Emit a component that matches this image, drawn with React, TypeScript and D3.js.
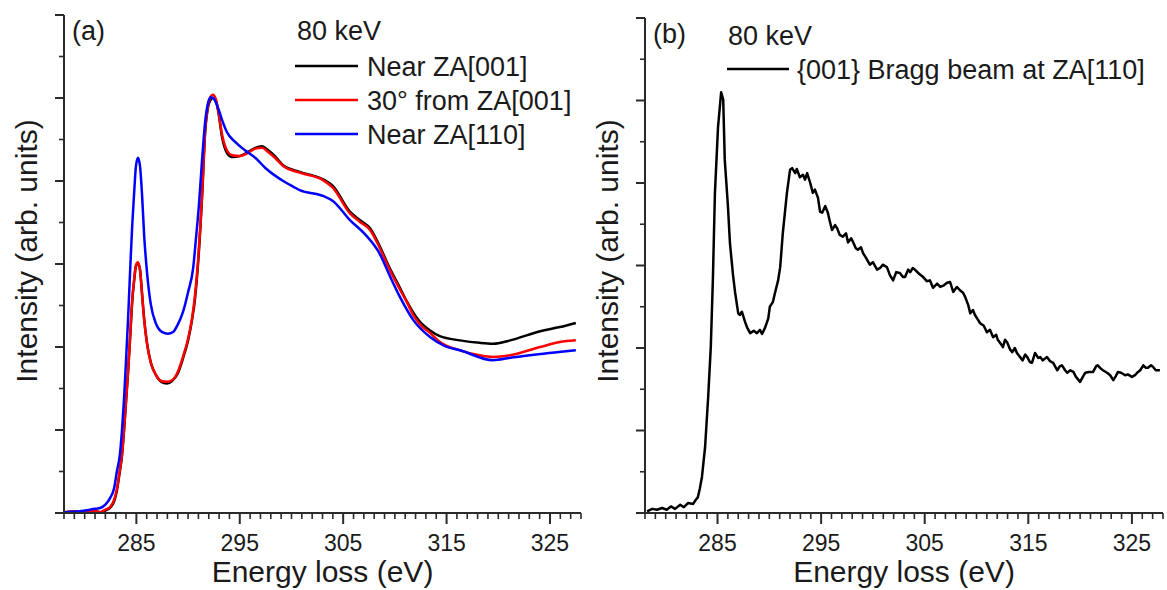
import React from "react";
import * as d3 from "d3";

// ---------- Data ----------
// Panel (a): energy (eV) and intensity (arb. units)
const aBlackE = [278.1, 279.5, 281.0, 281.5, 282.0, 282.45, 282.85, 283.1, 283.4, 283.6, 283.8, 284.0, 284.2, 284.4, 284.6, 284.8, 284.95, 285.15, 285.35, 285.55, 285.75, 286.05, 286.4, 286.9, 287.4, 287.95, 288.45, 289.0, 289.5, 290.0, 290.4, 290.65, 290.95, 291.35, 291.65, 291.95, 292.2, 292.4, 292.7, 292.9, 293.3, 293.75, 294.25, 295.0, 295.8, 296.5, 297.15, 297.75, 298.4, 299.2, 300.8, 303.05, 304.0, 305.65, 306.6, 307.6, 308.55, 309.5, 310.5, 311.2, 311.75, 312.45, 313.4, 314.35, 316.3, 318.2, 319.5, 321.15, 324.05, 325.95, 327.5];
const aBlackI = [0.01, 0.02, 0.02, 0.01, 0.03, 0.06, 0.14, 0.26, 0.5, 0.68, 0.98, 1.34, 1.7, 2.12, 2.55, 2.82, 2.97, 3.01, 2.93, 2.64, 2.34, 2.03, 1.81, 1.66, 1.58, 1.56, 1.59, 1.68, 1.86, 2.08, 2.34, 2.56, 2.98, 3.8, 4.58, 4.9, 4.98, 5.0, 4.96, 4.85, 4.52, 4.34, 4.29, 4.3, 4.35, 4.4, 4.42, 4.37, 4.3, 4.19, 4.11, 4.02, 3.94, 3.63, 3.53, 3.43, 3.21, 2.95, 2.71, 2.54, 2.42, 2.3, 2.2, 2.13, 2.08, 2.05, 2.04, 2.08, 2.19, 2.24, 2.29];

const aRedE = [278.1, 279.5, 281.0, 281.5, 282.0, 282.45, 282.85, 283.1, 283.4, 283.6, 283.8, 284.0, 284.2, 284.4, 284.6, 284.8, 284.95, 285.15, 285.35, 285.55, 285.75, 286.05, 286.4, 286.9, 287.4, 287.95, 288.45, 289.0, 289.5, 290.0, 290.4, 290.65, 290.95, 291.35, 291.65, 291.95, 292.2, 292.4, 292.7, 292.9, 293.3, 293.75, 294.25, 295.0, 295.8, 296.5, 297.15, 297.75, 298.4, 299.2, 300.8, 303.05, 304.0, 305.65, 306.6, 307.6, 308.55, 309.5, 310.5, 311.2, 311.75, 312.45, 313.4, 314.35, 316.3, 318.2, 319.5, 321.15, 324.05, 325.95, 327.5];
const aRedI = [0.01, 0.02, 0.02, 0.01, 0.04, 0.07, 0.16, 0.28, 0.52, 0.7, 1.0, 1.36, 1.72, 2.14, 2.57, 2.83, 2.98, 3.02, 2.93, 2.63, 2.33, 2.02, 1.81, 1.66, 1.59, 1.58, 1.6, 1.7, 1.88, 2.1, 2.36, 2.6, 3.02, 3.83, 4.61, 4.92, 5.02, 5.04, 4.98, 4.86, 4.55, 4.37, 4.31, 4.3, 4.34, 4.39, 4.4, 4.35, 4.28, 4.18, 4.1, 4.01, 3.92, 3.61, 3.51, 3.41, 3.19, 2.93, 2.69, 2.53, 2.39, 2.27, 2.17, 2.06, 1.96, 1.9, 1.88, 1.9, 2.0, 2.06, 2.08];

const aBlueE = [278.1, 279.5, 281.0, 281.5, 282.0, 282.45, 282.85, 283.1, 283.4, 283.6, 283.8, 284.0, 284.2, 284.4, 284.6, 284.8, 284.95, 285.15, 285.35, 285.55, 285.75, 286.05, 286.4, 286.9, 287.5, 288.05, 288.55, 289.0, 289.5, 290.0, 290.5, 290.75, 291.05, 291.35, 291.65, 291.95, 292.2, 292.5, 292.9, 293.3, 293.75, 294.55, 295.5, 296.5, 297.45, 299.2, 300.2, 300.8, 303.05, 304.0, 305.65, 307.1, 308.55, 309.5, 310.5, 311.75, 313.4, 314.85, 316.3, 319.5, 321.15, 323.05, 327.5];
const aBlueI = [0.01, 0.02, 0.05, 0.06, 0.1, 0.18, 0.3, 0.49, 0.7, 0.98, 1.36, 1.84, 2.35, 2.93, 3.47, 3.89, 4.17, 4.28, 4.18, 3.83, 3.35, 2.87, 2.51, 2.28, 2.18, 2.16, 2.18, 2.27, 2.42, 2.66, 2.96, 3.29, 3.71, 4.25, 4.71, 4.95, 5.01, 4.99, 4.88, 4.73, 4.59, 4.47, 4.37, 4.28, 4.16, 4.0, 3.93, 3.89, 3.82, 3.76, 3.53, 3.36, 3.12, 2.86, 2.6, 2.33, 2.12, 2.01, 1.96, 1.84, 1.87, 1.9, 1.96];

// Panel (b): {001} Bragg beam at ZA[110]
const bE = [278.2, 278.7, 279.15, 279.65, 280.1, 280.5, 280.9, 281.4, 281.75, 282.15, 282.65, 282.9, 283.1, 283.3, 283.5, 283.8, 284.1, 284.35, 284.55, 284.75, 285.05, 285.35, 285.55, 285.7, 286.0, 286.2, 286.5, 286.7, 287.0, 287.15, 287.35, 287.65, 287.85, 288.15, 288.5, 288.8, 289.1, 289.3, 289.6, 289.9, 290.05, 290.35, 290.55, 290.85, 291.05, 291.3, 291.7, 292.0, 292.2, 292.5, 292.65, 292.95, 293.25, 293.45, 293.65, 293.95, 294.2, 294.4, 294.7, 294.9, 295.1, 295.4, 295.65, 295.85, 296.05, 296.35, 296.55, 296.8, 297.1, 297.4, 297.6, 297.9, 298.1, 298.35, 298.55, 298.85, 299.05, 299.35, 299.7, 300.0, 300.4, 300.7, 300.95, 301.35, 301.65, 301.95, 302.25, 302.6, 302.9, 303.1, 303.4, 303.6, 303.85, 304.05, 304.45, 304.85, 305.2, 305.5, 305.8, 306.2, 306.5, 306.85, 307.15, 307.45, 307.75, 308.1, 308.4, 308.7, 308.9, 309.2, 309.4, 309.65, 309.85, 310.15, 310.35, 310.7, 311.0, 311.3, 311.6, 311.9, 312.05, 312.35, 312.55, 312.75, 312.95, 313.25, 313.45, 313.7, 313.9, 314.2, 314.45, 314.7, 314.9, 315.15, 315.35, 315.65, 315.95, 316.15, 316.4, 316.8, 317.1, 317.4, 317.8, 318.05, 318.25, 318.55, 318.75, 319.05, 319.35, 319.6, 320.0, 320.3, 320.5, 320.85, 321.25, 321.55, 321.7, 322.0, 322.2, 322.6, 322.9, 323.2, 323.45, 323.65, 323.95, 324.35, 324.6, 325.0, 325.3, 325.5, 325.8, 326.1, 326.35, 326.55, 326.85, 327.05, 327.3, 327.7];
const bI = [0.02, 0.05, 0.04, 0.06, 0.04, 0.08, 0.05, 0.1, 0.07, 0.12, 0.11, 0.16, 0.19, 0.3, 0.44, 0.8, 1.41, 2.01, 2.82, 3.88, 4.68, 5.1, 5.01, 4.28, 3.73, 3.27, 2.88, 2.67, 2.42, 2.4, 2.44, 2.32, 2.25, 2.18, 2.21, 2.18, 2.22, 2.17, 2.25, 2.36, 2.5, 2.56, 2.67, 2.82, 2.98, 3.39, 3.88, 4.16, 4.18, 4.12, 4.17, 4.07, 4.1, 4.04, 4.12, 4.0, 3.88, 3.92, 3.82, 3.65, 3.64, 3.72, 3.64, 3.53, 3.43, 3.49, 3.45, 3.37, 3.35, 3.39, 3.28, 3.33, 3.28, 3.21, 3.19, 3.22, 3.15, 3.09, 3.01, 3.04, 2.95, 2.97, 3.01, 2.98, 2.88, 2.82, 2.92, 2.91, 2.86, 2.86, 2.95, 2.92, 2.97, 2.95, 2.9, 2.86, 2.81, 2.82, 2.73, 2.78, 2.74, 2.76, 2.79, 2.8, 2.68, 2.74, 2.7, 2.67, 2.62, 2.52, 2.42, 2.46, 2.4, 2.34, 2.3, 2.27, 2.19, 2.22, 2.13, 2.16, 2.1, 2.05, 2.01, 2.1, 2.07, 1.98, 1.95, 2.0, 1.94, 1.89, 1.85, 1.92, 1.89, 1.83, 1.82, 1.94, 1.88, 1.89, 1.85, 1.89, 1.84, 1.82, 1.73, 1.78, 1.79, 1.73, 1.7, 1.73, 1.71, 1.65, 1.59, 1.66, 1.7, 1.71, 1.71, 1.78, 1.79, 1.75, 1.73, 1.7, 1.67, 1.61, 1.66, 1.71, 1.7, 1.67, 1.68, 1.65, 1.67, 1.7, 1.73, 1.79, 1.76, 1.76, 1.79, 1.77, 1.73, 1.73];

const xTickLabels = [285, 295, 305, 315, 325];
const xDomain = [278, 328];
const yDomain = [0, 6];

const aSeriesNames = ["Near ZA[001]", "30\u00b0 from ZA[001]", "Near ZA[110]"];
const aSeriesColors = ["#000000", "#ff0000", "#0000ff"];
const bSeriesName = "{001} Bragg beam at ZA[110]";
const energyLabel = "80 keV";
const xTitle = "Energy loss (eV)";
const yTitle = "Intensity (arb. units)";

const FONT = "'Liberation Sans', Arial, Helvetica, sans-serif";
const AXIS = "#2a2a2a";
const TEXT = "#1a1a1a";

type Series = { e: number[]; v: number[]; color: string; curve: any };

function Panel({ x0, x1, yTop, yBottom, series, tag }: { x0: number; x1: number; yTop: number; yBottom: number; series: Series[]; tag: string }) {
  const x = d3.scaleLinear().domain(xDomain).range([x0, x1]);
  const y = d3.scaleLinear().domain(yDomain).range([yBottom, yTop]);
  const minorX = d3.range(xDomain[0], xDomain[1] + 0.001, 1).filter((v) => !xTickLabels.includes(v));
  const majorY = d3.range(0, 6.001, 1);
  const minorY = d3.range(0.5, 6, 1);
  return (
    <g>
      {series.map((s, i) => {
        const pts = s.e.map((e, k) => [e, s.v[k]] as [number, number]);
        const line = d3.line<[number, number]>().x((d) => x(d[0])).y((d) => y(d[1])).curve(s.curve);
        return <path key={i} d={line(pts) || ""} fill="none" stroke={s.color} strokeWidth={2.5} strokeLinejoin="round" />;
      })}
      {/* axes */}
      <line x1={x0} x2={x0} y1={yTop} y2={yBottom + 1} stroke={AXIS} strokeWidth={2} />
      <line x1={x0 - 1} x2={x1} y1={yBottom} y2={yBottom} stroke={AXIS} strokeWidth={2} />
      {majorY.map((v) => (
        <line key={"my" + v} x1={x0 - 9} x2={x0} y1={y(v)} y2={y(v)} stroke={AXIS} strokeWidth={2} />
      ))}
      {minorY.map((v) => (
        <line key={"ny" + v} x1={x0 - 5} x2={x0} y1={y(v)} y2={y(v)} stroke={AXIS} strokeWidth={1.6} />
      ))}
      {minorX.map((v) => (
        <line key={"nx" + v} x1={x(v)} x2={x(v)} y1={yBottom} y2={yBottom + 6} stroke={AXIS} strokeWidth={1.6} />
      ))}
      {xTickLabels.map((v) => (
        <g key={"mx" + v}>
          <line x1={x(v)} x2={x(v)} y1={yBottom} y2={yBottom + 11} stroke={AXIS} strokeWidth={2} />
          <text x={x(v)} y={551} textAnchor="middle" fontSize={23} fontFamily={FONT} fill={TEXT}>{v}</text>
        </g>
      ))}
      <text x={(x0 + x1) / 2} y={582} textAnchor="middle" fontSize={30} fontFamily={FONT} fill={TEXT}>{xTitle}</text>
      <text transform={`translate(${x0 - 27},251) rotate(-90)`} textAnchor="middle" fontSize={30} fontFamily={FONT} fill={TEXT}>{yTitle}</text>
      <text x={x0 + 8} y={tag === "(a)" ? 40 : 43} fontSize={27} fontFamily={FONT} fill={TEXT}>{tag}</text>
    </g>
  );
}

export default function App() {
  const aSeries: Series[] = [
    { e: aBlackE, v: aBlackI, color: aSeriesColors[0], curve: d3.curveMonotoneX },
    { e: aRedE, v: aRedI, color: aSeriesColors[1], curve: d3.curveMonotoneX },
    { e: aBlueE, v: aBlueI, color: aSeriesColors[2], curve: d3.curveMonotoneX },
  ];
  const bSeries: Series[] = [{ e: bE, v: bI, color: "#000000", curve: d3.curveLinear }];
  return (
    <svg width={1167} height={590} style={{ position: "absolute", left: 0, top: 0, background: "#fff" }}>
      <rect x={0} y={0} width={1167} height={590} fill="#fff" />
      <Panel x0={64} x1={581} yTop={15} yBottom={513} series={aSeries} tag="(a)" />
      <Panel x0={645} x1={1163} yTop={18} yBottom={513} series={bSeries} tag="(b)" />
      {/* legend (a) */}
      <text x={297} y={40} fontSize={27} fontFamily={FONT} fill={TEXT}>{energyLabel}</text>
      {aSeriesNames.map((n, i) => (
        <g key={n}>
          <line x1={295} x2={358} y1={66 + i * 34} y2={66 + i * 34} stroke={aSeriesColors[i]} strokeWidth={2.5} />
          <text x={367} y={76 + i * 34} fontSize={27} fontFamily={FONT} fill={TEXT}>{n}</text>
        </g>
      ))}
      {/* legend (b) */}
      <text x={728} y={45} fontSize={27} fontFamily={FONT} fill={TEXT}>{energyLabel}</text>
      <line x1={727} x2={789} y1={69} y2={69} stroke="#000" strokeWidth={2.5} />
      <text x={797} y={79} fontSize={27} fontFamily={FONT} fill={TEXT}>{bSeriesName}</text>
    </svg>
  );
}
